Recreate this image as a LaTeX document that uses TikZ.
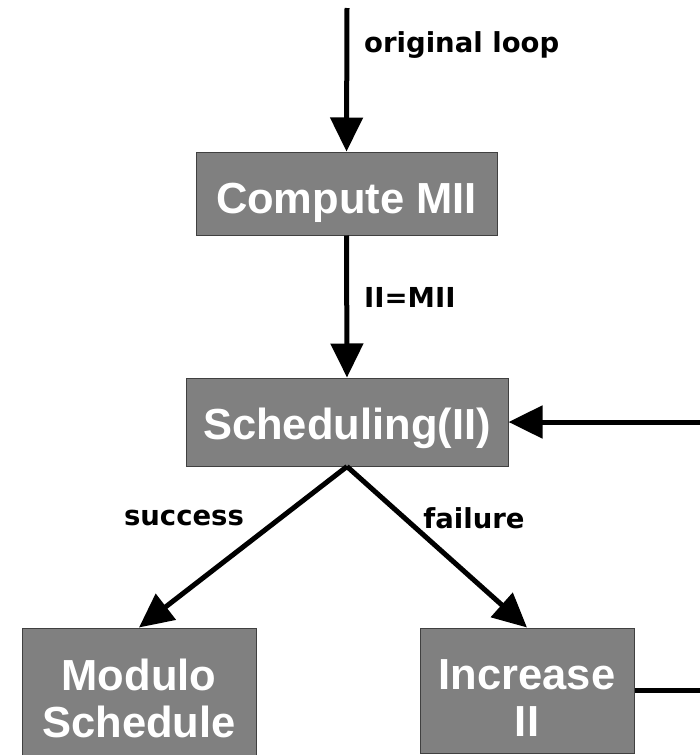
\documentclass[tikz,border=0pt]{standalone}
\usepackage{fontspec}
\setmainfont{Liberation Sans}
\newfontfamily\lblfont{DejaVu Sans}
\usetikzlibrary{arrows.meta}
\begin{document}
\begin{tikzpicture}[x=1pt,y=-1pt,
  box/.style={draw=black!75,line width=1pt,fill=black!50,inner sep=0pt},
  boxtext/.style={text=white,font=\fontsize{43.5}{47}\selectfont\bfseries,align=center,inner sep=0pt},
  lbl/.style={font=\lblfont\fontsize{27.5}{32}\selectfont\bfseries,inner sep=0pt},
  conn/.style={line width=5pt,-{Triangle[length=34pt,width=32pt]}},
  plain/.style={line width=5pt}]
\useasboundingbox (0,0) rectangle (700,755);
\coordinate (start) at (347,8);
\node[box,minimum width=301pt,minimum height=83pt] (compute) at (346.5,193.5) {};
\node[boxtext] (computet) at (346.5,203) {Compute MII};
\node[box,minimum width=322pt,minimum height=88pt] (sched) at (347,422) {};
\node[boxtext] (schedt) at (347,428) {Scheduling(II)};
\node[box,minimum width=234pt,minimum height=150pt] (modulo) at (139,703) {};
\node[boxtext] (modulot) at (139,698) {Modulo\\Schedule};
\node[box,minimum width=214pt,minimum height=125pt] (incr) at (527,690.5) {};
\node[boxtext] (incrt) at (527,698) {Increase\\II};
\coordinate (corner) at (712,0);
\draw[conn] (start) -- (compute.north);
\draw[conn] (compute.south) -- (sched.north);
\draw[conn] (sched.south) -- (modulo.north);
\draw[conn] (sched.south) -- (incr.north);
\draw[conn] (incr.east) -- (incr.east -| corner) |- (sched.east);
\node[lbl,anchor=west] (l1) at (364,45) {original loop};
\node[lbl,anchor=west] (l2) at (364,297) {II=MII};
\node[lbl] (l3) at (184,518) {success};
\node[lbl] (l4) at (474,518) {failure};
\end{tikzpicture}
\end{document}
